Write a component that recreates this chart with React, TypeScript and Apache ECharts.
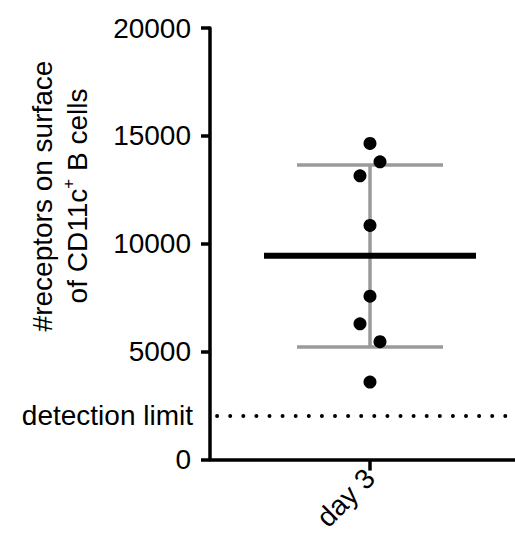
import React, { useEffect, useRef } from 'react';
import * as echarts from 'echarts';

// ---- data ----
const categories = ['day 3'];
const receptorValues = [14650, 13800, 13150, 10850, 7570, 6290, 5460, 3590];
const meanValue = 9440;
const sdUpper = 13650;
const sdLower = 5220;
const detectionLimit = 2050;
const yTicks = [0, 5000, 10000, 15000, 20000];
const titleLines = ['#receptors on surface', 'of CD11c{sup|+} B cells'];
const detectionLabel = 'detection limit';

// ---- styling ----
const FONT = '"Liberation Sans", Arial, Helvetica, sans-serif';
const GRAY = '#9a9a9a';
const JITTER_PX = [0, 10, -10, 0, 0, -10, 10, 0];

export default function App() {
  const ref = useRef<HTMLDivElement>(null);

  useEffect(() => {
    if (!ref.current) return;
    const chart = echarts.init(ref.current, undefined, { renderer: 'svg' });
    const option: any = {
      animation: false,
      backgroundColor: '#fff',
      grid: { left: 210, right: 0, top: 28, bottom: 70, containLabel: false },
      xAxis: {
        type: 'category',
        data: categories,
        boundaryGap: true,
        axisLine: { show: true, lineStyle: { color: '#000', width: 3.5 } },
        axisTick: { show: true, alignWithLabel: true, length: 11, lineStyle: { color: '#000', width: 3.5 } },
        axisLabel: { rotate: 45, fontSize: 28, fontFamily: FONT, color: '#000', margin: 14 },
        splitLine: { show: false },
      },
      yAxis: {
        type: 'value',
        min: yTicks[0],
        max: yTicks[yTicks.length - 1],
        interval: yTicks[1] - yTicks[0],
        axisLine: { show: true, lineStyle: { color: '#000', width: 3.5 } },
        axisTick: { show: true, length: 9, lineStyle: { color: '#000', width: 3.5 } },
        axisLabel: {
          fontSize: 28,
          fontFamily: FONT,
          color: '#000',
          margin: 19,
          formatter: (v: number) => String(v),
        },
        splitLine: { show: false },
      },
      graphic: [
        {
          type: 'text',
          x: 60,
          y: 196,
          rotation: Math.PI / 2,
          style: {
            text: titleLines.join('\n'),
            fontSize: 28,
            fontFamily: FONT,
            fill: '#000',
            align: 'center',
            verticalAlign: 'middle',
            lineHeight: 35,
            rich: {
              sup: { fontSize: 17, fontFamily: FONT, fill: '#000', verticalAlign: 'top', lineHeight: 17 },
            },
          },
        },
      ],
      series: [
        {
          type: 'line',
          data: [[0, sdLower], [0, sdUpper]],
          symbol: 'none',
          lineStyle: { color: GRAY, width: 3.5, opacity: 1 },
          z: 2,
          markLine: {
            silent: true,
            symbol: ['none', 'none'],
            data: [{ yAxis: detectionLimit }],
            lineStyle: { type: [0, 13.1], cap: 'round', dashOffset: 6.4, width: 4, color: '#000', opacity: 1 },
            label: {
              show: true,
              position: 'start',
              formatter: detectionLabel,
              fontSize: 28,
              fontFamily: FONT,
              color: '#000',
              distance: 17,
            },
          },
        },
        {
          type: 'scatter',
          data: [[0, sdUpper], [0, sdLower]],
          symbol: 'rect',
          symbolSize: [146, 3.5],
          itemStyle: { color: GRAY, opacity: 1 },
          z: 3,
        },
        {
          type: 'scatter',
          data: [[0, meanValue]],
          symbol: 'rect',
          symbolSize: [212, 6],
          itemStyle: { color: '#000', opacity: 1 },
          z: 4,
        },
        {
          type: 'scatter',
          data: receptorValues.map((v, i) => ({ value: [0, v], symbolOffset: [JITTER_PX[i], 0] })),
          symbol: 'circle',
          symbolSize: 13,
          itemStyle: { color: '#000', opacity: 1 },
          z: 5,
        },
      ],
    };
    chart.setOption(option);
    return () => chart.dispose();
  }, []);

  return (
    <div
      ref={ref}
      style={{ position: 'fixed', left: 0, top: 0, width: 530, height: 534 }}
    />
  );
}
